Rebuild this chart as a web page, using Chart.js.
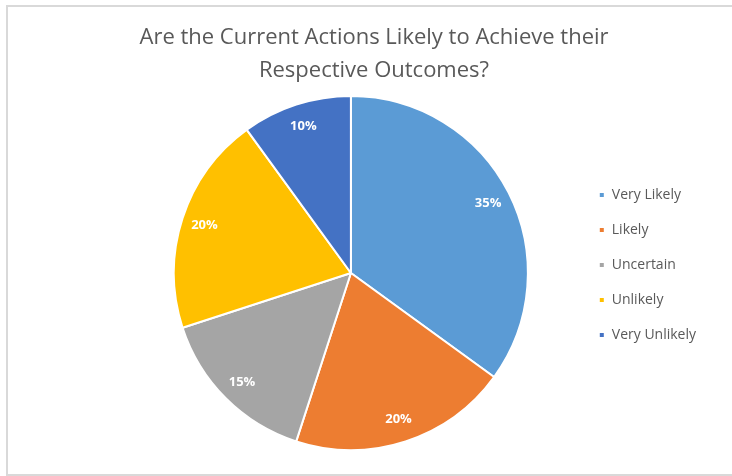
<!DOCTYPE html>
<html>
<head>
<meta charset="utf-8">
<title>Current Actions Outlook</title>
<script src="https://cdn.jsdelivr.net/npm/chart.js@4.4.1/dist/chart.umd.min.js"></script>
<style>
  html, body { margin: 0; padding: 0; background: #fff; }
  .frame {
    position: absolute;
    left: 6px; top: 5px;
    width: 740px; height: 467px;
    border: 2px solid #d9d9d9;
  }
  #outlookChart { position: absolute; left: 0; top: 0; }
</style>
</head>
<body>
<div class="frame"></div>
<canvas id="outlookChart" width="732" height="476"></canvas>
<script>
const titleLines = ['Are the Current Actions Likely to Achieve their', 'Respective Outcomes?'];
const categories = ['Very Likely', 'Likely', 'Uncertain', 'Unlikely', 'Very Unlikely'];
const shares = [35, 20, 15, 20, 10];
const sliceColors = ['#5b9bd5', '#ed7d31', '#a5a5a5', '#ffc000', '#4472c4'];

// white percentage text inside each slice
const sliceLabels = {
    id: 'sliceLabels',
    afterDatasetsDraw(chart) {
        const ctx = chart.ctx;
        const meta = chart.getDatasetMeta(0);
        ctx.save();
        ctx.fillStyle = '#ffffff';
        ctx.font = 'bold 13px "Open Sans"';
        ctx.textAlign = 'center';
        ctx.textBaseline = 'middle';
        meta.data.forEach((arc, i) => {
            const p = arc.getProps(['x', 'y', 'startAngle', 'endAngle', 'outerRadius']);
            const mid = (p.startAngle + p.endAngle) / 2;
            const r = p.outerRadius * 0.87;
            ctx.fillText(shares[i] + '%', p.x + Math.cos(mid) * r, p.y + Math.sin(mid) * r);
        });
        ctx.restore();
    }
};

// centre the title over the whole frame; legend column sits level with the pie, a bit higher
const frameLayout = {
    id: 'frameLayout',
    afterLayout(chart) {
        const area = chart.chartArea;
        chart.titleBlock.left = 8;
        chart.titleBlock.right = 740;
        chart.legend.top = area.top - 8;
        chart.legend.bottom = area.bottom - 8;
        chart.legend.height = area.bottom - area.top;
    }
};

new Chart(document.getElementById('outlookChart'), {
    type: 'pie',
    data: {
        labels: categories,
        datasets: [{
            data: shares,
            backgroundColor: sliceColors,
            borderColor: '#ffffff',
            borderWidth: 2
        }]
    },
    options: {
        responsive: false,
        animation: false,
        layout: {
            padding: { left: 124, right: 26, top: 0, bottom: 25 }
        },
        plugins: {
            title: {
                display: true,
                text: titleLines,
                color: '#595959',
                font: { family: 'Open Sans', size: 22, weight: 'normal', lineHeight: 1.5 },
                padding: { top: 21, bottom: 8 }
            },
            legend: {
                position: 'right',
                labels: {
                    color: '#595959',
                    font: { family: 'Open Sans', size: 14 },
                    boxWidth: 6,
                    boxHeight: 6,
                    padding: 21
                }
            },
            tooltip: { enabled: false }
        }
    },
    plugins: [sliceLabels, frameLayout]
});
</script>
</body>
</html>
